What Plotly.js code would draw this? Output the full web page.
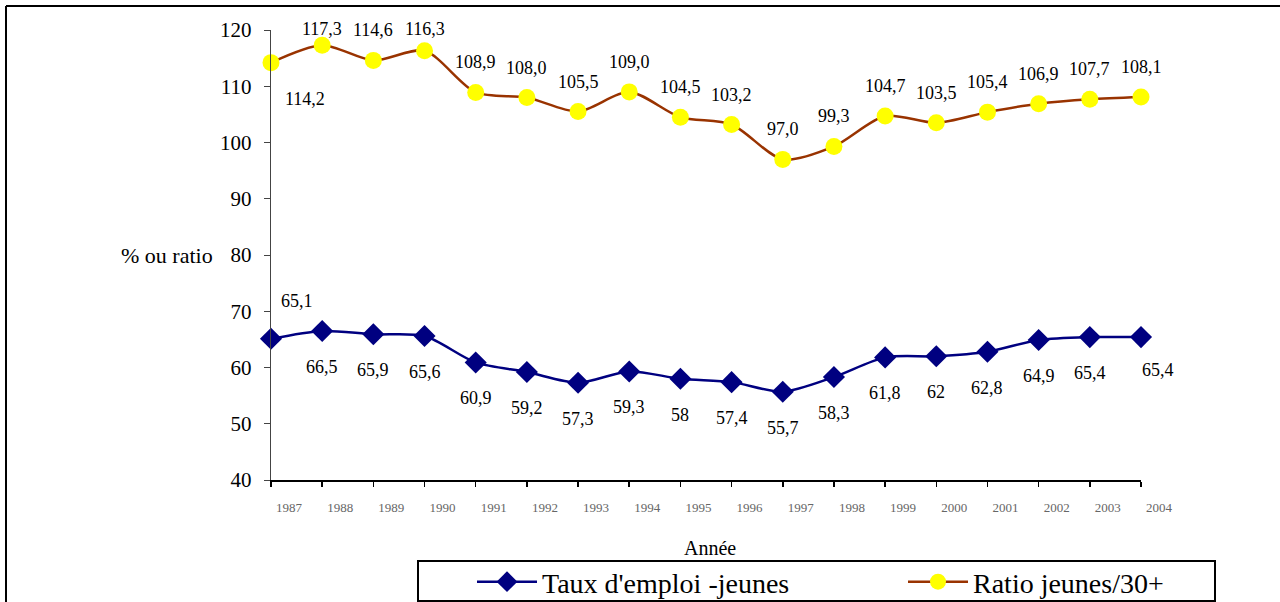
<!DOCTYPE html>
<html>
<head>
<meta charset="utf-8">
<script src="https://cdn.plot.ly/plotly-3.0.1.min.js"></script>
<style>
html,body{margin:0;padding:0;background:#fff;}
#chart{width:1280px;height:602px;}
</style>
</head>
<body>
<div id="chart"></div>
<script>
// ---- data ----
const years = ["1987","1988","1989","1990","1991","1992","1993","1994","1995","1996","1997","1998","1999","2000","2001","2002","2003","2004"];
const tauxEmploi = [65.1,66.5,65.9,65.6,60.9,59.2,57.3,59.3,58,57.4,55.7,58.3,61.8,62,62.8,64.9,65.4,65.4];
const tauxLabels = ["65,1","66,5","65,9","65,6","60,9","59,2","57,3","59,3","58","57,4","55,7","58,3","61,8","62","62,8","64,9","65,4","65,4"];
const ratio = [114.2,117.3,114.6,116.3,108.9,108.0,105.5,109.0,104.5,103.2,97.0,99.3,104.7,103.5,105.4,106.9,107.7,108.1];
const ratioLabels = ["114,2","117,3","114,6","116,3","108,9","108,0","105,5","109,0","104,5","103,2","97,0","99,3","104,7","103,5","105,4","106,9","107,7","108,1"];
const seriesNames = ["Taux d'emploi -jeunes","Ratio jeunes/30+"];
const yTitle = "% ou ratio";
const xTitle = "Année";

const FONT = "Liberation Serif, Times New Roman, serif";

// ---- layout geometry (pixels) ----
const W = 1280, H = 602;
const M = {l:271, r:139, t:30, b:122};
const PW = W - M.l - M.r, PH = H - M.t - M.b;
const px = x => (x - M.l) / PW;          // pixel -> paper x
const py = y => (H - M.b - y) / PH;      // pixel -> paper y

const traces = [
  {
    x: years, y: tauxEmploi, name: seriesNames[0], type: 'scatter', mode: 'lines+markers',
    line: {color: '#000080', width: 2.5, shape: 'spline', smoothing: 0.8},
    marker: {symbol: 'diamond', size: 17, color: '#000080'},
    cliponaxis: false, hoverinfo: 'x+y'
  },
  {
    x: years, y: ratio, name: seriesNames[1], type: 'scatter', mode: 'lines+markers',
    line: {color: '#993300', width: 2.5, shape: 'spline', smoothing: 0.8},
    marker: {symbol: 'circle', size: 17, color: '#FFFF00'},
    cliponaxis: false, hoverinfo: 'x+y'
  }
];

const annotations = [];
const last = years.length - 1;
years.forEach((yr, i) => {
  // employment rate labels: below, except first (above right)
  let xs = 0, ys = -36;
  if (i === 0) { xs = 26; ys = 38; }
  if (i === last) { xs = 17; ys = -33; }
  annotations.push({x: i, y: tauxEmploi[i], xref: 'x', yref: 'y', text: tauxLabels[i],
    showarrow: false, xshift: xs, yshift: ys, font: {family: FONT, size: 18, color: '#000'}});
  // ratio labels: above (kept under the top of the chart), except first (below right)
  let rxs = 0, rys = 30;
  const pointPx = (ratio[i] - 40) / 80 * PH;
  if (pointPx + rys > PH + 1) rys = PH + 1 - pointPx;
  if (i === 0) { rxs = 34; rys = -36; }
  annotations.push({x: i, y: ratio[i], xref: 'x', yref: 'y', text: ratioLabels[i],
    showarrow: false, xshift: rxs, yshift: rys, font: {family: FONT, size: 18, color: '#000'}});
});

annotations.push({x: px(215), y: 80, xref: 'paper', yref: 'y', xanchor: 'right', yanchor: 'middle',
  text: yTitle, showarrow: false, font: {family: FONT, size: 22, color: '#000'}});
annotations.push({x: px(710), y: py(548), xref: 'paper', yref: 'paper', xanchor: 'center', yanchor: 'middle',
  text: xTitle, showarrow: false, font: {family: FONT, size: 20, color: '#000'}});

const shapes = [
  // outer chart frame (top and left edges visible)
  {type: 'line', xref: 'paper', yref: 'paper', x0: px(6), x1: px(1282), y0: py(6), y1: py(6), line: {color: '#000', width: 2}},
  {type: 'line', xref: 'paper', yref: 'paper', x0: px(6), x1: px(6), y0: py(6), y1: py(604), line: {color: '#000', width: 2}},
  // legend box
  {type: 'rect', xref: 'paper', yref: 'paper', x0: px(418), x1: px(1215), y0: py(601), y1: py(561), line: {color: '#000', width: 2}, fillcolor: 'rgba(0,0,0,0)'}
];

const layout = {
  width: W, height: H,
  margin: {l: M.l, r: M.r, t: M.t, b: M.b, pad: 0, autoexpand: false},
  paper_bgcolor: '#fff', plot_bgcolor: '#fff',
  showlegend: true,
  legend: {
    orientation: 'h', xref: 'container', yref: 'container',
    x: 472 / W, xanchor: 'left', y: (H - 582) / H, yanchor: 'middle',
    font: {family: FONT, size: 28, color: '#000'},
    bgcolor: 'rgba(0,0,0,0)', borderwidth: 0,
    entrywidth: 356, itemwidth: 60, tracegroupgap: 0
  },
  xaxis: {
    type: 'category', range: [0, last],
    showgrid: false, zeroline: false,
    showline: true, linecolor: '#000', linewidth: 1.5,
    ticks: 'outside', ticklen: 5, tickcolor: '#000', tickwidth: 1.5,
    tickfont: {family: FONT, size: 13, color: '#666'},
    ticklabelshift: 18, ticklabelstandoff: 10,
    fixedrange: true
  },
  yaxis: {
    range: [40, 120], dtick: 10, tick0: 40,
    showgrid: false, zeroline: false,
    showline: true, linecolor: '#444', linewidth: 1.2,
    ticks: 'outside', ticklen: 6, tickcolor: '#444',
    tickfont: {family: FONT, size: 21, color: '#000'},
    ticklabelstandoff: 8,
    fixedrange: true
  },
  annotations: annotations,
  shapes: shapes
};

Plotly.newPlot('chart', traces, layout, {displayModeBar: false, staticPlot: true});
</script>
</body>
</html>
